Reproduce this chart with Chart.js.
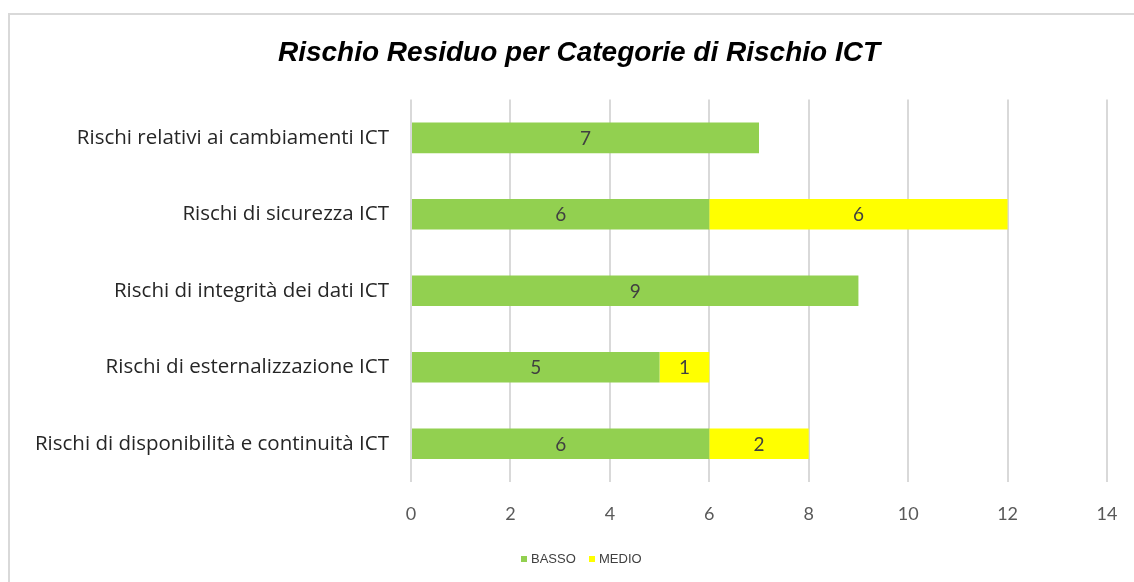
<!DOCTYPE html>
<html>
<head>
<meta charset="utf-8">
<script src="https://cdn.jsdelivr.net/npm/chart.js@4"></script>
<style>
html,body{margin:0;padding:0;background:#fff;width:1134px;height:582px;overflow:hidden;}
#frame{position:absolute;left:8px;top:13px;width:1200px;height:700px;border:2.5px solid #d9d9d9;box-sizing:border-box;}
#wrap{position:absolute;left:0;top:0;width:1134px;height:582px;}
</style>
</head>
<body>
<div id="frame"></div>
<div id="wrap"><canvas id="c" width="1134" height="582"></canvas></div>
<script>
const categories = [
  "Rischi relativi ai cambiamenti ICT",
  "Rischi di sicurezza ICT",
  "Rischi di integrità dei dati ICT",
  "Rischi di esternalizzazione ICT",
  "Rischi di disponibilità e continuità ICT"
];
const seriesNames = ["BASSO", "MEDIO"];
const basso = [7, 6, 9, 5, 6];
const medio = [null, 6, null, 1, 2];
const xTicks = [0, 2, 4, 6, 8, 10, 12, 14];
const titleText = "Rischio Residuo per Categorie di Rischio ICT";
const colors = ["#92D050", "#FFFF00"];

const labelFont = "'Open Sans', Lato, sans-serif";
const tickFont = "Lato, 'Open Sans', sans-serif";
const arialFont = "'Liberation Sans', Arial, sans-serif";

const valueLabels = {
  id: 'valueLabels',
  afterDatasetsDraw(chart) {
    const ctx = chart.ctx;
    ctx.save();
    ctx.font = "19px " + tickFont;
    ctx.fillStyle = "#404040";
    ctx.textAlign = "center";
    ctx.textBaseline = "middle";
    chart.data.datasets.forEach((ds, di) => {
      const meta = chart.getDatasetMeta(di);
      meta.data.forEach((bar, i) => {
        const v = ds.data[i];
        if (v === null || v === undefined) return;
        const p = bar.getProps(['x', 'y', 'base'], true);
        ctx.fillText(String(v), (p.x + p.base) / 2, p.y + 1);
      });
    });
    ctx.restore();
  }
};

const titleAndLegend = {
  id: 'titleAndLegend',
  afterDraw(chart) {
    const ctx = chart.ctx;
    ctx.save();
    ctx.font = "italic bold 28px " + arialFont;
    ctx.fillStyle = "#000";
    ctx.textAlign = "center";
    ctx.textBaseline = "middle";
    const tb = chart.titleBlock;
    const ty = tb ? (tb.top + tb.bottom) / 2 + (36 - 30) / 2 : 52;
    ctx.fillText(titleText, 579, ty);
    ctx.font = "13px " + arialFont;
    ctx.textAlign = "left";
    const ly = 559;
    const items = [[521, 531], [589, 599]];
    chart.data.datasets.forEach((ds, i) => {
      ctx.fillStyle = ds.backgroundColor;
      ctx.fillRect(items[i][0], ly - 3, 6, 6);
      ctx.fillStyle = "#404040";
      ctx.fillText(ds.label, items[i][1], ly);
    });
    ctx.restore();
  }
};

new Chart(document.getElementById('c'), {
  type: 'bar',
  data: {
    labels: categories,
    datasets: [
      { label: seriesNames[0], data: basso, backgroundColor: colors[0], barPercentage: 0.4, categoryPercentage: 1.0 },
      { label: seriesNames[1], data: medio, backgroundColor: colors[1], barPercentage: 0.4, categoryPercentage: 1.0 }
    ]
  },
  options: {
    indexAxis: 'y',
    responsive: false,
    animation: false,
    layout: { padding: { left: 0, right: 27, top: 0, bottom: 42 } },
    plugins: {
      title: {
        display: true,
        text: titleText,
        color: 'rgba(0,0,0,0)',
        font: { family: arialFont, size: 28, style: 'italic', weight: 'bold' },
        padding: { top: 36, bottom: 30 }
      },
      legend: { display: false },
      tooltip: { enabled: false }
    },
    scales: {
      x: {
        stacked: true,
        min: 0, max: 14,
        afterBuildTicks(axis) { axis.ticks = xTicks.map(v => ({ value: v })); },
        ticks: { color: '#595959', font: { family: tickFont, size: 18 }, padding: 21 },
        grid: { color: '#d9d9d9', lineWidth: 2, drawTicks: false },
        border: { display: false },
        afterFit(axis) { axis.height = 58; axis.paddingLeft = 0; axis.paddingRight = 0; }
      },
      y: {
        stacked: true,
        ticks: { color: '#262626', font: { family: labelFont, size: 20.5 }, padding: 22 },
        grid: { display: false, drawTicks: false },
        border: { display: false },
        afterFit(axis) { axis.width = 411; axis.paddingTop = 0; axis.paddingBottom = 0; }
      }
    }
  },
  plugins: [valueLabels, titleAndLegend]
});
</script>
</body>
</html>
